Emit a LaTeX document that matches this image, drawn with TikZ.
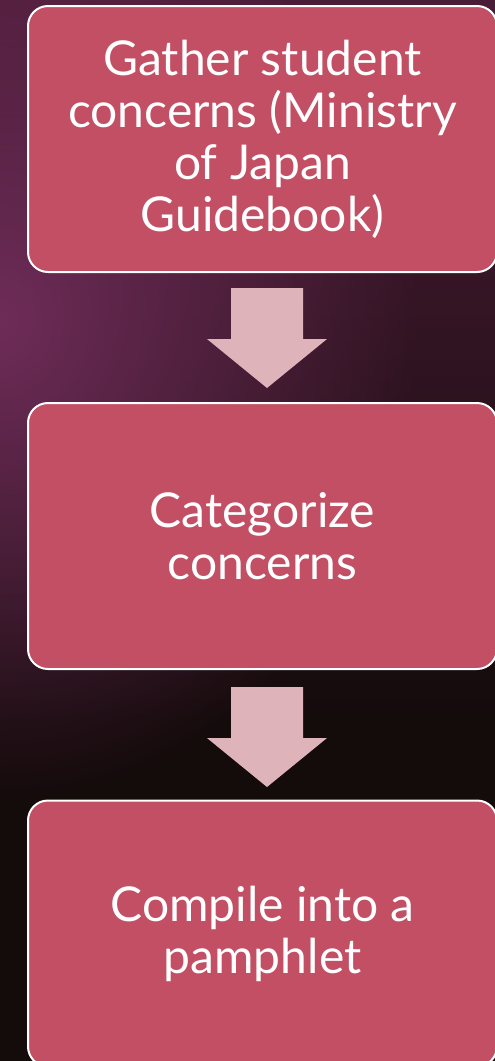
\documentclass[tikz,border=0pt]{standalone}
\usepackage{fontspec}
\setmainfont{Lato}
\usetikzlibrary{calc,fadings}
\definecolor{boxfill}{HTML}{C24F63}
\definecolor{arrowfill}{HTML}{DFB3BA}
\definecolor{bgdark}{HTML}{140B0B}
\definecolor{bgpurple}{HTML}{6E2C58}
\definecolor{bgtop}{HTML}{4A1C36}
\tikzfading[name=glowfade, inner color=transparent!0, outer color=transparent!100]
\begin{document}
\begin{tikzpicture}[x=1pt,y=-1pt,
  box/.style={draw=white, line width=2pt, fill=boxfill, rounded corners=20pt,
    minimum width=469pt, minimum height=266pt, align=center, text=white,
    font=\fontsize{48}{52}\selectfont, inner sep=0pt},
  blockarrow/.style={fill=arrowfill}]
\useasboundingbox (0,0) rectangle (495,1061);
\clip (0,0) rectangle (495,1061);
% background
\fill[bgdark] (0,0) rectangle (495,1061);
\shade[top color=bgtop, bottom color=bgdark] (0,0) rectangle (495,720);
\fill[bgpurple, path fading=glowfade] (0,320) ellipse (420 and 480);
% boxes
\node[box] (b1) at (262.5,139) {Gather student\\concerns (Ministry\\of Japan\\Guidebook)};
\node[box] (b2) at (262.5,536) {Categorize\\concerns};
\node[box] (b3) at (262.5,933.5) {Compile into a\\pamphlet};
% block arrows
\coordinate (a1) at ($(b1.south)+(4.5,15)$);
\coordinate (a2) at ($(b2.south)+(4.5,17)$);
\foreach \a in {a1,a2}{
  \fill[blockarrow, shift={(\a)}] (-36,0) -- (36,0) -- (36,51) -- (60,51)
    -- (0,100) -- (-60,51) -- (-36,51) -- cycle;
}
\end{tikzpicture}
\end{document}
